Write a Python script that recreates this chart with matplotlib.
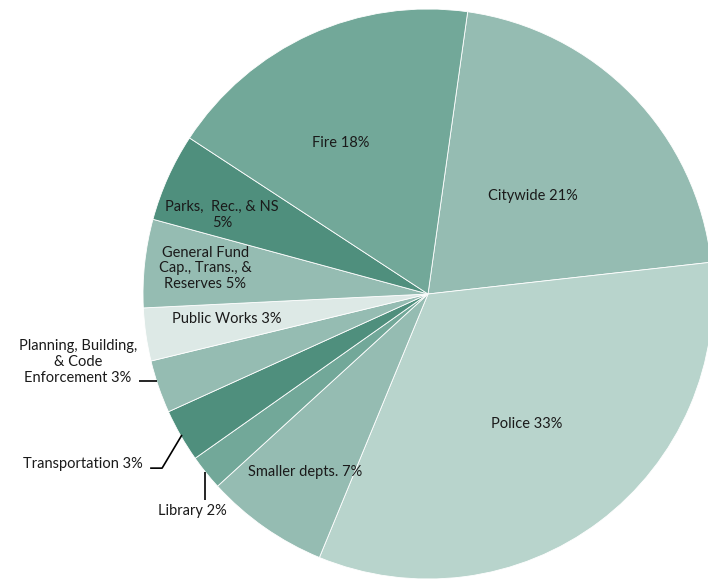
import numpy as np
import matplotlib
matplotlib.use("Agg")
import matplotlib.pyplot as plt

# slices, clockwise from the top
departments = [
    "Citywide 21%",
    "Police 33%",
    "Smaller depts. 7%",
    "Library 2%",
    "Transportation 3%",
    "Planning, Building,\n& Code\nEnforcement 3%",
    "Public Works 3%",
    "General Fund\nCap., Trans., &\nReserves 5%",
    "Parks,  Rec., & NS\n5%",
    "Fire 18%",
]
shares = [21, 33, 7, 2, 3, 3, 3, 5, 5, 18]

colors = [
    "#95bcb2", "#b8d4cc", "#95bcb2", "#72a899", "#4f8f7d",
    "#95bcb2", "#dde9e6", "#95bcb2", "#4f8f7d", "#72a899",
]

# label centres in pie units (radius = 1)
label_pos = {
    "Citywide 21%": (0.368, 0.344),
    "Police 33%": (0.347, -0.456),
    "Smaller depts. 7%": (-0.432, -0.625),
    "Library 2%": (-0.828, -0.761),
    "Transportation 3%": (-1.211, -0.596),
    "Planning, Building,\n& Code\nEnforcement 3%": (-1.228, -0.239),
    "Public Works 3%": (-0.705, -0.088),
    "General Fund\nCap., Trans., &\nReserves 5%": (-0.782, 0.090),
    "Parks,  Rec., & NS\n5%": (-0.723, 0.277),
    "Fire 18%": (-0.305, 0.530),
}

# leader lines: outer points + how the line meets the pie edge
leaders = {
    "Library 2%": ([(-0.782, -0.723)], "vertical"),
    "Transportation 3%": ([(-0.975, -0.611), (-0.933, -0.611)], "mid"),
    "Planning, Building,\n& Code\nEnforcement 3%": ([(-1.014, -0.305)], "horizontal"),
}

plt.rcParams["font.family"] = ["Lato", "DejaVu Sans"]

fig = plt.figure(figsize=(7.08, 5.79), dpi=100)
ax = fig.add_axes([0, 0, 1, 1])

wedges, _ = ax.pie(
    shares,
    colors=colors,
    startangle=82,
    counterclock=False,
    radius=1.0,
    wedgeprops=dict(edgecolor="white", linewidth=0.6),
)

for wedge, name in zip(wedges, departments):
    x, y = label_pos[name]
    ax.text(x, y, name, ha="center", va="center", fontsize=10.5,
            color="#1a1a1a", linespacing=1.15)
    if name in leaders:
        pts, mode = leaders[name]
        lx, ly = pts[-1]
        if mode == "horizontal":
            end = (-np.sqrt(1 - ly ** 2), ly)
        elif mode == "vertical":
            end = (lx, -np.sqrt(1 - lx ** 2))
        else:
            mid = np.deg2rad((wedge.theta1 + wedge.theta2) / 2)
            end = (0.995 * np.cos(mid), 0.995 * np.sin(mid))
        xs, ys = zip(*(pts + [end]))
        ax.plot(xs, ys, color="black", linewidth=1.2, solid_capstyle="butt")

ax.set_aspect("auto")
ax.set_xlim(-428 / 285, (708 - 428) / 285)
ax.set_ylim(-(579 - 294) / 285, 294 / 285)
ax.axis("off")

fig.savefig("out.png", dpi=100, facecolor="white")
